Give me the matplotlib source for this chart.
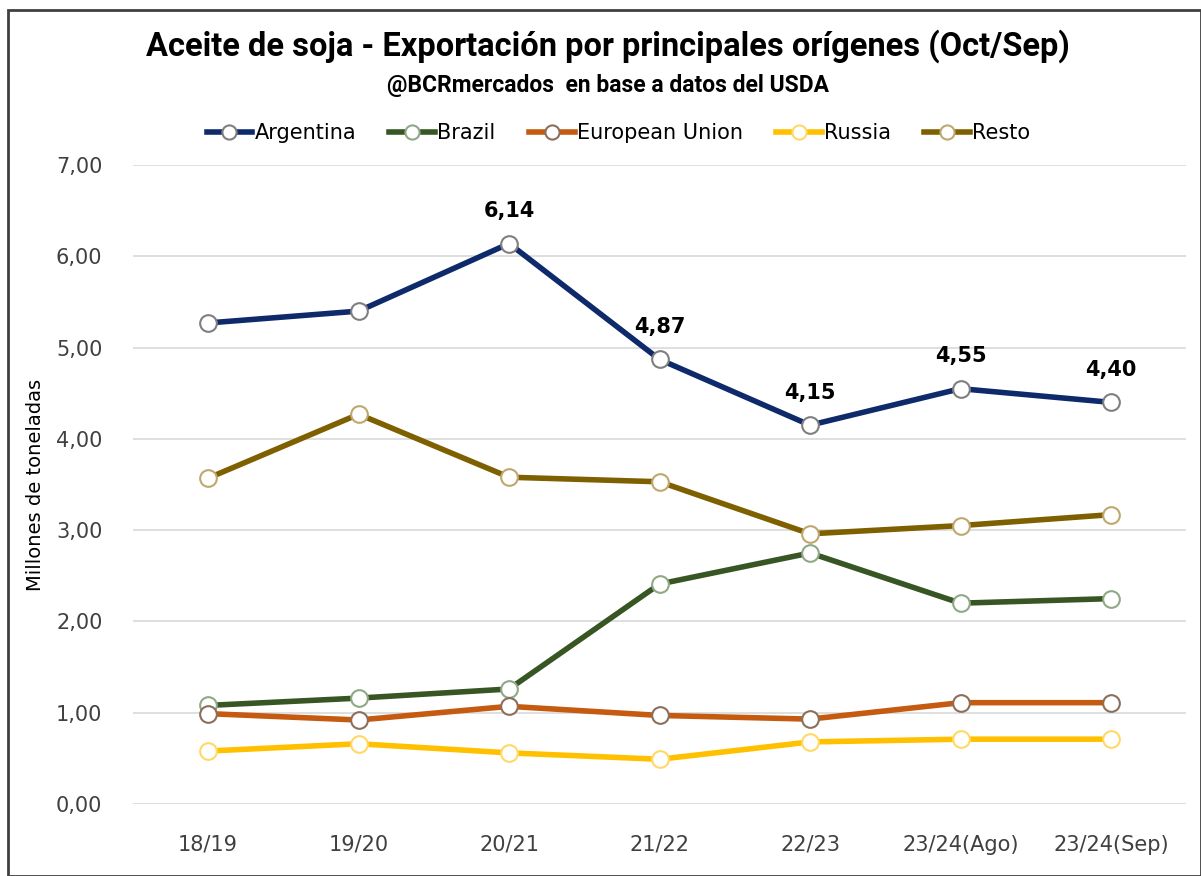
import matplotlib
matplotlib.use('Agg')
import matplotlib.pyplot as plt
from matplotlib.patches import Rectangle

# Datos (millones de toneladas)
campanias = ['18/19', '19/20', '20/21', '21/22', '22/23', '23/24(Ago)', '23/24(Sep)']
argentina = [5.27, 5.40, 6.14, 4.87, 4.15, 4.55, 4.40]
brazil = [1.08, 1.16, 1.26, 2.41, 2.75, 2.20, 2.25]
union_europea = [0.99, 0.92, 1.07, 0.97, 0.93, 1.11, 1.11]
russia = [0.58, 0.66, 0.56, 0.49, 0.68, 0.71, 0.71]
resto = [3.57, 4.27, 3.58, 3.53, 2.96, 3.05, 3.17]

# Etiquetas de Argentina que se muestran
etiquetas_idx = [2, 3, 4, 5, 6]

series = [
    ('Argentina', argentina, '#0E2A6B', '#7F7F7F'),
    ('Brazil', brazil, '#375623', '#8FA886'),
    ('European Union', union_europea, '#C55A11', '#8C6E5A'),
    ('Russia', russia, '#FFC000', '#FFD966'),
    ('Resto', resto, '#7F6000', '#BFA870'),
]

fig = plt.figure(figsize=(12.01, 8.76), dpi=100)
ax = fig.add_axes([0.1107, 0.0822, 0.877, 0.7294])

x = list(range(len(campanias)))
for nombre, vals, color, borde in series:
    ax.plot(x, vals, color=color, linewidth=4, marker='o', markersize=12,
            markerfacecolor='white', markeredgecolor=borde, markeredgewidth=1.5,
            label=nombre, zorder=3)

for i in etiquetas_idx:
    ax.annotate(f'{argentina[i]:.2f}'.replace('.', ','), (i, argentina[i]),
                xytext=(0, 16), textcoords='offset points', ha='center', va='bottom',
                fontsize=15, fontweight='bold', color='black')

ax.set_xlim(-0.5, len(campanias) - 0.5)
ax.set_ylim(0, 7)
ax.set_yticks([0, 1, 2, 3, 4, 5, 6, 7])
ax.set_yticklabels([f'{v:.2f}'.replace('.', ',') for v in range(8)])
ax.set_xticks(x)
ax.set_xticklabels(campanias)
ax.tick_params(axis='both', length=0, labelsize=15, labelcolor='#404040')
ax.tick_params(axis='x', pad=22)
ax.tick_params(axis='y', pad=22)
for s in ax.spines.values():
    s.set_visible(False)
ax.grid(axis='y', color='#D9D9D9', linewidth=1.2)
ax.set_axisbelow(True)
ax.set_ylabel('Millones de toneladas', fontsize=14, color='black', labelpad=8)

fig.text(0.506, 0.947, 'Aceite de soja - Exportación por principales orígenes (Oct/Sep)',
         ha='center', va='center', fontsize=23.5, fontweight='bold',
         family=['Roboto', 'DejaVu Sans'])
fig.text(0.506, 0.902, '@BCRmercados  en base a datos del USDA',
         ha='center', va='center', fontsize=16.5, fontweight='bold',
         family=['Roboto', 'DejaVu Sans'])

fig.legend(loc='center', bbox_to_anchor=(0.515, 0.848), ncol=5, frameon=False,
           fontsize=15, handlelength=2.2, columnspacing=1.6, handletextpad=0.1,
           markerscale=0.85)

fig.patches.append(Rectangle((0.007, 0.0), 0.993, 0.989, transform=fig.transFigure,
                             fill=False, edgecolor='#404040', linewidth=2))

fig.savefig('out.png', dpi=100)
